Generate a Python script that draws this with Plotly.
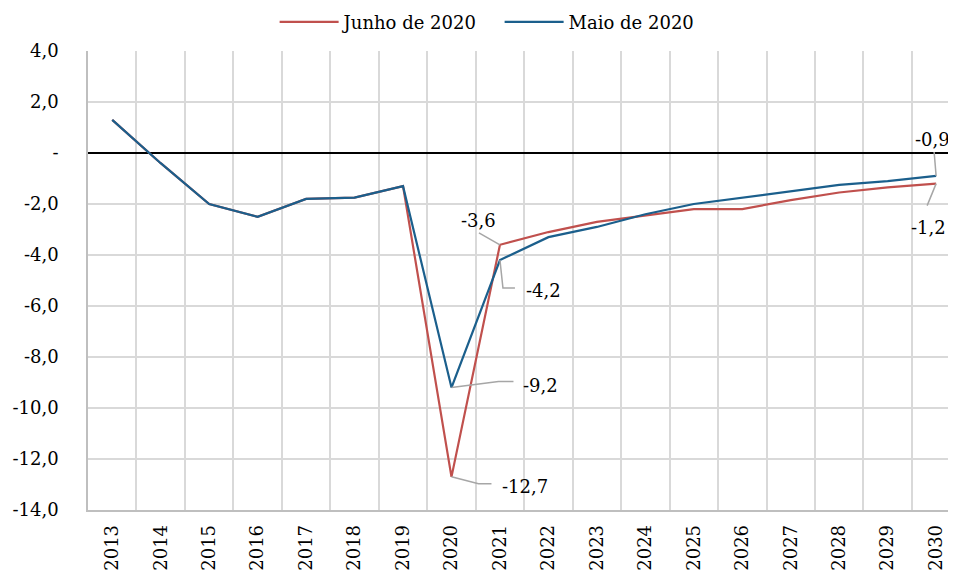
import plotly.graph_objects as go

years = [str(y) for y in range(2013, 2031)]
junho = [1.3, -0.4, -2.0, -2.5, -1.8, -1.75, -1.3, -12.7, -3.6, -3.1, -2.7, -2.45, -2.2, -2.2, -1.85, -1.55, -1.35, -1.2]
maio = [1.3, -0.4, -2.0, -2.5, -1.8, -1.75, -1.3, -9.2, -4.2, -3.3, -2.9, -2.4, -2.0, -1.75, -1.5, -1.25, -1.1, -0.9]
ytickvals = [4, 2, 0, -2, -4, -6, -8, -10, -12, -14]
yticktext = ["4,0", "2,0", "-", "-2,0", "-4,0", "-6,0", "-8,0", "-10,0", "-12,0", "-14,0"]

RED = "#C0504D"
BLUE = "#1B5F8C"
GRAY = "#A6A6A6"
FONT = "DejaVu Serif"

fig = go.Figure()
fig.add_trace(go.Scatter(x=years, y=junho, mode="lines", name="Junho de 2020",
                         line=dict(color=RED, width=2.2)))
fig.add_trace(go.Scatter(x=years, y=maio, mode="lines", name="Maio de 2020",
                         line=dict(color=BLUE, width=2.2)))

def fmt(v):
    return ("%.1f" % v).replace(".", ",")

# labelled points: (series, year index, leader path in pixel offsets, text offset, anchor)
labels = [
    (junho, 8, [(0, 0), (-21, 12)], (-21, 24), "center"),
    (maio, 8, [(0, 0), (3, -28), (15, -28)], (24, -30), "left"),
    (maio, 7, [(0, 0), (47, 6), (62, 6)], (70, 2), "left"),
    (junho, 7, [(0, 0), (27, -7), (40, -7)], (49, -10), "left"),
    (maio, 17, [(0, 0), (-2, 24)], (-4, 36), "center"),
    (junho, 17, [(0, 0), (-9, -22)], (-8, -44), "center"),
]

shapes = []
annotations = []
for series, idx, path, toff, anchor in labels:
    d = "M " + " L ".join("%d,%d" % (px, py) for px, py in path)
    shapes.append(dict(type="path", xref="x", yref="y", xsizemode="pixel", ysizemode="pixel",
                       xanchor=idx, yanchor=series[idx], path=d,
                       line=dict(color=GRAY, width=1.5)))
    annotations.append(dict(x=idx, y=series[idx], xref="x", yref="y", text=fmt(series[idx]),
                            showarrow=False, xshift=toff[0], yshift=toff[1], xanchor=anchor,
                            yanchor="middle", font=dict(family=FONT, size=18, color="#000000")))

# the page body adds an 8px offset, so the figure is 8px smaller and margins shifted
fig.update_layout(
    width=948, height=571,
    margin=dict(l=80, r=0, t=43, b=69, autoexpand=False),
    paper_bgcolor="white", plot_bgcolor="white",
    font=dict(family=FONT, size=18, color="#000000"),
    showlegend=True,
    legend=dict(orientation="h", x=0.215, xanchor="left", y=1.063, yanchor="middle",
                font=dict(family=FONT, size=18), entrywidth=151, entrywidthmode="pixels",
                itemwidth=59, bgcolor="rgba(0,0,0,0)"),
    shapes=shapes,
    annotations=annotations,
)
fig.update_xaxes(type="category", tickson="boundaries", range=[-0.5, 17.41],
                 showgrid=True, gridcolor="#D9D9D9", gridwidth=1.5,
                 showline=True, linecolor="#BFBFBF", linewidth=1.5,
                 ticks="", tickangle=-90, tickfont=dict(family=FONT, size=18),
                 ticklabelstandoff=6, automargin=False)
fig.update_yaxes(range=[-14, 4], tickvals=ytickvals, ticktext=yticktext,
                 showgrid=True, gridcolor="#D9D9D9", gridwidth=1.5,
                 zeroline=True, zerolinecolor="#000000", zerolinewidth=2,
                 showline=True, linecolor="#BFBFBF", linewidth=1.5,
                 ticks="", tickfont=dict(family=FONT, size=18), ticklabelstandoff=24,
                 automargin=False)

fig.write_html("out.html")
